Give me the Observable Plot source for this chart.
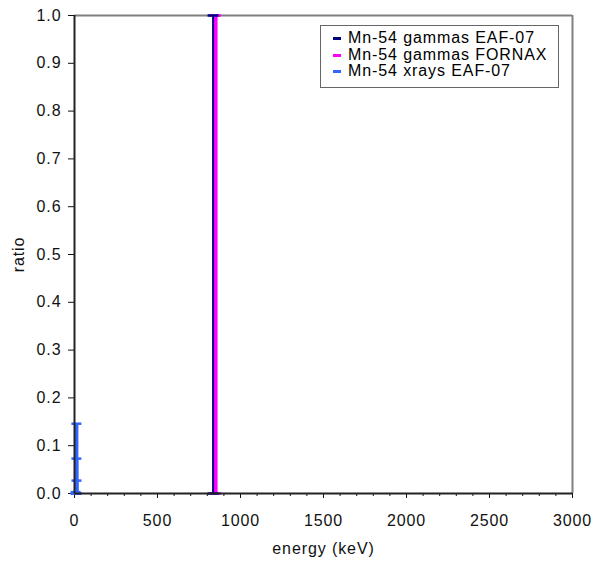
<!DOCTYPE html>
<html>
<head>
<meta charset="utf-8">
<script src="https://cdn.jsdelivr.net/npm/d3@7"></script>
<script src="https://cdn.jsdelivr.net/npm/@observablehq/plot@0.6"></script>
<style>
  html, body { margin: 0; padding: 0; background: #fff; }
  #wrap { position: relative; width: 602px; height: 563px; font-family: "Liberation Sans", Arial, sans-serif; }
  #legend { position: absolute; left: 320px; top: 25px; width: 237px; height: 61px; border: 1px solid #666; background: #fff; font-size: 16px; letter-spacing: 0.9px; color: #000; }
  .row { position: absolute; left: 0; height: 16px; line-height: 16px; white-space: nowrap; }
  .sw { position: absolute; left: 12px; top: 7px; width: 8px; height: 3px; }
  .lbl { position: absolute; left: 27px; top: 0; display: inline-block; height: 16px; line-height: 16px; overflow: visible; }
</style>
</head>
<body>
<div id="wrap"></div>
<script>
// ---- data ----
const gammaEAFEnergy = [834.8];
const gammaEAFRatio = [1.0];
const gammaFornaxEnergy = [834.8];
const gammaFornaxRatio = [1.0];
const xrayEnergy = [5.4, 5.4, 5.9, 0.6];
const xrayRatio = [0.146, 0.073, 0.027, 0.003];
const seriesNames = ["Mn-54 gammas EAF-07", "Mn-54 gammas FORNAX", "Mn-54 xrays EAF-07"];
const seriesColors = ["#000080", "#FF00FF", "#3366FF"];
const xMajorTicks = [0, 500, 1000, 1500, 2000, 2500, 3000];
const xMinorTicks = d3.range(0, 3001, 100);
const yTicks = [0, 0.1, 0.2, 0.3, 0.4, 0.5, 0.6, 0.7, 0.8, 0.9, 1.0];

const toRows = (xs, ys) => xs.map((x, i) => ({energy: x, ratio: ys[i]}));
const gEAF = toRows(gammaEAFEnergy, gammaEAFRatio);
const gFOR = toRows(gammaFornaxEnergy, gammaFornaxRatio);
const xr = toRows(xrayEnergy, xrayRatio);

const cap = (hw) => ({ draw(ctx) { ctx.moveTo(-hw, 0); ctx.lineTo(hw, 0); } });

const series = (rows, color, width, capHalf, capWidth, dx) => [
  Plot.ruleX(rows, {x: "energy", y1: 0, y2: "ratio", stroke: color, strokeWidth: width, dx}),
  Plot.dot(rows, {x: "energy", y: "ratio", symbol: cap(capHalf), r: 3, fill: "none", stroke: color, strokeWidth: capWidth, dx}),
  Plot.dot(rows, {x: "energy", y: 0, symbol: cap(capHalf), r: 3, fill: "none", stroke: color, strokeWidth: capWidth, dx})
];

const chart = Plot.plot({
  width: 602,
  height: 563,
  marginLeft: 74,
  marginRight: 30,
  marginTop: 15,
  marginBottom: 70,
  style: {fontFamily: "'Liberation Sans', Arial, sans-serif", fontSize: "16px", letterSpacing: "0.9px", color: "#111", background: "#fff"},
  x: {domain: [0, 3000]},
  y: {domain: [0, 1]},
  marks: [
    Plot.axisX({ticks: xMinorTicks, tickSize: 3, fill: "none", label: null}),
    Plot.axisX({ticks: xMajorTicks, tickSize: 5, tickPadding: 16, tickFormat: d3.format("d"), label: "energy (keV)", labelAnchor: "center", labelArrow: "none", labelOffset: 60}),
    Plot.axisY({ticks: yTicks, tickSize: 6, tickPadding: 7, tickFormat: d3.format(".1f"), label: "ratio", labelAnchor: "center", labelArrow: "none", labelOffset: 62}),
    Plot.ruleY([1], {stroke: "#808080", strokeWidth: 2}),
    Plot.ruleX([3000], {stroke: "#808080", strokeWidth: 2}),
    ...series(gFOR, seriesColors[1], 4, 5.5, 2.5, 2.5),
    ...series(gEAF, seriesColors[0], 2, 5.5, 2.5, 0),
    ...series(xr, seriesColors[2], 4, 5, 2.5, 1),
    Plot.ruleX([0], {stroke: "#222", strokeWidth: 2}),
    Plot.ruleY([0], {stroke: "#222", strokeWidth: 2})
  ]
});

const wrap = document.getElementById("wrap");
wrap.appendChild(chart);

const legend = document.createElement("div");
legend.id = "legend";
seriesNames.forEach((name, i) => {
  const row = document.createElement("div");
  row.className = "row";
  row.style.top = (4 + i * 16.7) + "px";
  row.style.width = "100%";
  const sw = document.createElement("span");
  sw.className = "sw";
  sw.style.background = seriesColors[i];
  const lb = document.createElement("span");
  lb.className = "lbl";
  lb.textContent = name;
  row.appendChild(sw);
  row.appendChild(lb);
  legend.appendChild(row);
});
wrap.appendChild(legend);
</script>
</body>
</html>
